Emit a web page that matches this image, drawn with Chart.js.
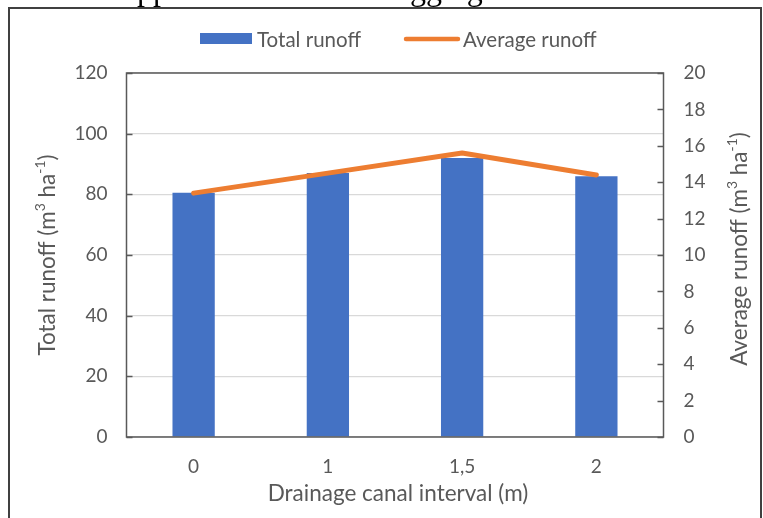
<!DOCTYPE html>
<html>
<head>
<meta charset="utf-8">
<script src="https://cdn.jsdelivr.net/npm/chart.js@4.4.1/dist/chart.umd.min.js"></script>
<style>
  html, body { margin: 0; padding: 0; background: #fff; }
  #wrap { position: relative; width: 763px; height: 518px; overflow: hidden; }
  canvas { position: absolute; left: 0; top: 0; }
  .caption {
    position: absolute; z-index: 2;
    font-family: "Liberation Serif", "DejaVu Serif", serif;
    font-size: 32px; line-height: 32px; color: #000; white-space: nowrap;
  }
</style>
</head>
<body>
<div id="wrap">
  <canvas id="chart" width="763" height="518"></canvas>
  <span class="caption" style="left:114px; top:-27.3px;">Application</span>
  <span class="caption" style="left:314px; top:-27.3px;">waterlogging</span>
</div>
<script>
// Drainage canal interval categories and measured runoff
const categories = ['0', '1', '1,5', '2'];
const totalRunoff = [80.5, 87, 92, 86];          // m3 ha-1, left axis
const averageRunoff = [13.4, 14.5, 15.6, 14.4];  // m3 ha-1, right axis

// Axis ranges and tick steps
const leftAxisMax = 120, leftAxisStep = 20;
const rightAxisMax = 20, rightAxisStep = 2;

const FONT = 'Lato, "Open Sans", sans-serif';
const TEXT = '#595959';
const AXIS = '#595959';
const BLUE = '#4472C4';
const ORANGE = '#ED7D31';
const TICK_SIZE = 19, LEGEND_SIZE = 20.5, TITLE_SIZE = 22.5;

// Draws a label with superscript parts, centred on (cx, cy), optionally rotated
function drawRich(ctx, parts, cx, cy, angle, size) {
  const supSize = Math.round(size * 0.62);
  ctx.save();
  ctx.translate(cx, cy);
  ctx.rotate(angle);
  ctx.textBaseline = 'middle';
  ctx.textAlign = 'left';
  let total = 0;
  parts.forEach(p => {
    ctx.font = (p.sup ? supSize : size) + 'px ' + FONT;
    p.w = ctx.measureText(p.t).width;
    total += p.w;
  });
  let x = -total / 2;
  ctx.fillStyle = TEXT;
  parts.forEach(p => {
    ctx.font = (p.sup ? supSize : size) + 'px ' + FONT;
    ctx.fillText(p.t, x, p.sup ? -size * 0.32 : 0);
    x += p.w;
  });
  ctx.restore();
}

const decorations = {
  id: 'decorations',
  afterDatasetsDraw(chart) {
    const ctx = chart.ctx;
    const a = chart.chartArea;
    const yl = chart.scales.y, yr = chart.scales.y1;
    ctx.save();
    // plot area frame
    ctx.strokeStyle = AXIS;
    ctx.lineWidth = 1.5;
    ctx.strokeRect(a.left, a.top, a.right - a.left, a.bottom - a.top);
    // inward tick marks
    ctx.beginPath();
    yl.ticks.forEach(t => {
      const py = Math.round(yl.getPixelForValue(t.value)) + 0.5;
      ctx.moveTo(a.left, py); ctx.lineTo(a.left + 6, py);
    });
    yr.ticks.forEach(t => {
      const py = Math.round(yr.getPixelForValue(t.value)) + 0.5;
      ctx.moveTo(a.right, py); ctx.lineTo(a.right - 6, py);
    });
    ctx.stroke();
    ctx.restore();
  },
  afterDraw(chart) {
    const ctx = chart.ctx;
    const a = chart.chartArea;
    ctx.save();
    // outer chart border
    ctx.strokeStyle = '#404040';
    ctx.lineWidth = 2;
    ctx.strokeRect(9, 8, 752, 600);

    // legend
    ctx.fillStyle = BLUE;
    ctx.fillRect(200, 33, 52, 11);
    ctx.strokeStyle = ORANGE;
    ctx.lineWidth = 4.5;
    ctx.lineCap = 'round';
    ctx.beginPath();
    ctx.moveTo(406, 39); ctx.lineTo(458, 39);
    ctx.stroke();
    ctx.fillStyle = TEXT;
    ctx.font = LEGEND_SIZE + 'px ' + FONT;
    ctx.textBaseline = 'middle';
    ctx.textAlign = 'left';
    ctx.fillText(chart.data.datasets[0].label, 257, 40);
    ctx.fillText(chart.data.datasets[1].label, 463, 40);

    // axis titles
    drawRich(ctx, [{t: 'Total runoff (m'}, {t: '3', sup: true}, {t: ' ha'}, {t: '-1', sup: true}, {t: ')'}],
      48, (a.top + a.bottom) / 2, -Math.PI / 2, TITLE_SIZE);
    drawRich(ctx, [{t: 'Average runoff (m'}, {t: '3', sup: true}, {t: ' ha'}, {t: '-1', sup: true}, {t: ')'}],
      740, (a.top + a.bottom) / 2 - 6, -Math.PI / 2, TITLE_SIZE);
    drawRich(ctx, [{t: 'Drainage canal interval (m)'}],
      (a.left + a.right) / 2 + 3, 494, 0, TITLE_SIZE);
    ctx.restore();
  }
};

new Chart(document.getElementById('chart'), {
  data: {
    labels: categories,
    datasets: [
      {
        type: 'bar',
        label: 'Total runoff',
        data: totalRunoff,
        backgroundColor: BLUE,
        yAxisID: 'y',
        categoryPercentage: 1,
        barPercentage: 0.315,
        order: 1
      },
      {
        type: 'line',
        label: 'Average runoff',
        data: averageRunoff,
        borderColor: ORANGE,
        backgroundColor: ORANGE,
        borderWidth: 5,
        borderCapStyle: 'round',
        borderJoinStyle: 'round',
        pointRadius: 0,
        tension: 0,
        yAxisID: 'y1',
        order: 0
      }
    ]
  },
  options: {
    responsive: false,
    animation: false,
    devicePixelRatio: 1,
    layout: { padding: { left: 0, right: 0, top: 73, bottom: 0 } },
    plugins: { legend: { display: false }, tooltip: { enabled: false } },
    scales: {
      x: {
        offset: true,
        grid: { display: false, drawTicks: false },
        border: { display: false },
        ticks: { color: TEXT, font: { family: FONT, size: TICK_SIZE }, padding: 18 },
        afterFit: s => { s.height = 81; }
      },
      y: {
        position: 'left',
        min: 0, max: leftAxisMax,
        grid: { color: '#d9d9d9', lineWidth: 1.2, drawTicks: false },
        border: { display: false },
        ticks: { stepSize: leftAxisStep, color: TEXT, font: { family: FONT, size: TICK_SIZE }, padding: 19 },
        afterFit: s => { s.width = 126.5; }
      },
      y1: {
        position: 'right',
        min: 0, max: rightAxisMax,
        grid: { drawOnChartArea: false, drawTicks: false },
        border: { display: false },
        ticks: { stepSize: rightAxisStep, color: TEXT, font: { family: FONT, size: TICK_SIZE }, padding: 20 },
        afterFit: s => { s.width = 99.5; }
      }
    }
  },
  plugins: [decorations]
});
</script>
</body>
</html>
